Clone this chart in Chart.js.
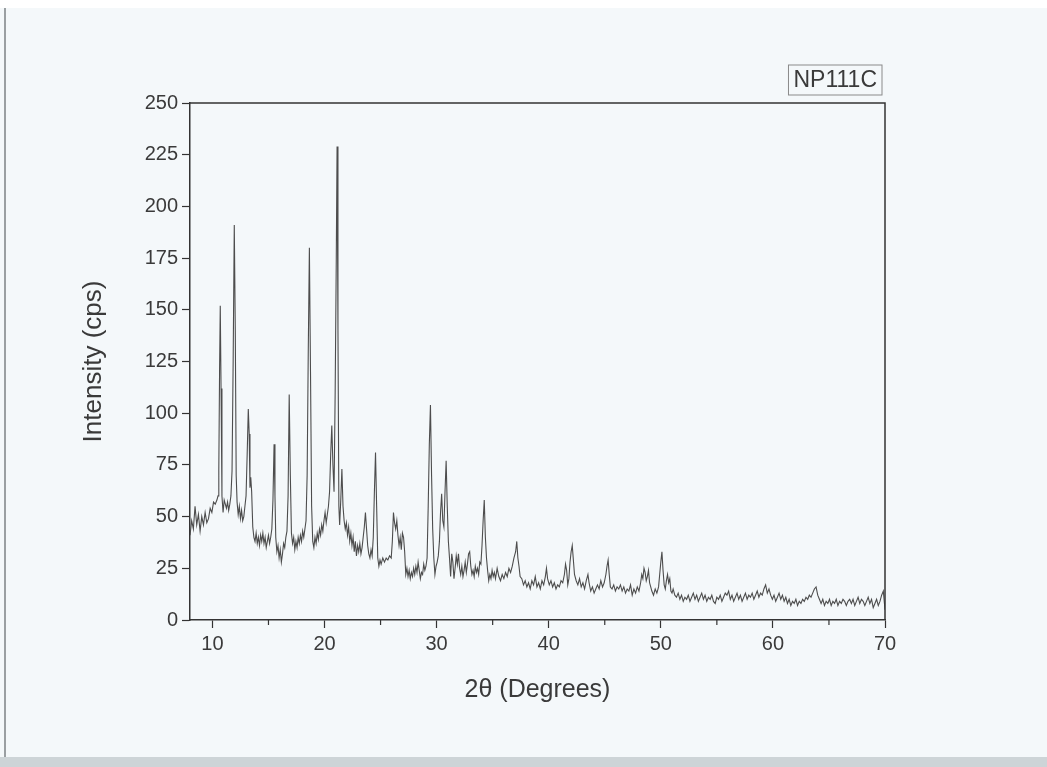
<!DOCTYPE html>
<html>
<head>
<meta charset="utf-8">
<title>NP111C</title>
<script src="https://cdn.jsdelivr.net/npm/chart.js@4"></script>
<style>
  html, body { margin: 0; padding: 0; }
  body { width: 1047px; height: 767px; background: #f4f8fa; position: relative; overflow: hidden; }
  #paperTop { position: absolute; left: 0; top: 0; width: 1047px; height: 8px; background: #ffffff; }
  #paperEdge { position: absolute; left: 4px; top: 8px; width: 2px; height: 750px; background: #9a9fa2; }
  #paperBottom { position: absolute; left: 0; top: 757px; width: 1047px; height: 10px; background: #cdd4d7; }
  #wrap { position: absolute; left: 0; top: 0; width: 1047px; height: 767px; }
</style>
</head>
<body>
<div id="paperTop"></div>
<div id="paperEdge"></div>
<div id="paperBottom"></div>
<div id="wrap"><canvas id="xrd"></canvas></div>
<script>
// Etiqueta de la muestra y titulos de ejes
const sampleName = 'NP111C';
const xTitle = '2\u03b8 (Degrees)';
const yTitle = 'Intensity (cps)';

// Rango de los ejes
const xRange = [8, 70];
const yRange = [0, 250];
const yStep = 25;
const xMajor = [10, 20, 30, 40, 50, 60, 70];
const xMinor = [15, 25, 35, 45, 55, 65];

// Difractograma: [2theta, intensidad]
const scan = [
  [8.0,41],[8.15,48],[8.3,44],[8.45,55],[8.6,46],[8.75,51],[8.9,43],[9.05,50],[9.2,46],[9.35,52],
  [9.5,47],[9.65,49],[9.8,54],[9.95,52],[10.1,57],[10.25,56],[10.4,58],[10.5,60],[10.57,72],[10.64,122],
  [10.7,152],[10.77,112],[10.85,60],[10.95,52],[11.05,58],[11.15,56],[11.25,54],[11.35,57],[11.45,53],[11.55,56],
  [11.65,60],[11.75,72],[11.85,125],[11.95,191],[12.04,140],[12.12,70],[12.2,57],[12.3,51],[12.4,55],[12.5,49],
  [12.6,53],[12.7,48],[12.8,50],[12.9,55],[13.0,60],[13.1,80],[13.2,102],[13.28,90],[13.35,64],[13.42,69],
  [13.5,62],[13.6,45],[13.7,40],[13.8,38],[13.9,42],[14.0,37],[14.1,40],[14.2,36],[14.3,41],[14.4,38],
  [14.5,42],[14.6,37],[14.7,40],[14.8,35],[14.9,38],[15.0,41],[15.1,37],[15.2,40],[15.3,44],[15.4,58],
  [15.5,85],[15.58,60],[15.65,40],[15.75,33],[15.85,36],[15.95,30],[16.05,34],[16.15,28],[16.25,32],[16.35,37],
  [16.45,35],[16.55,40],[16.65,43],[16.75,60],[16.85,109],[16.95,70],[17.05,42],[17.15,37],[17.25,40],[17.35,34],
  [17.45,38],[17.55,35],[17.65,40],[17.75,37],[17.85,41],[17.95,38],[18.05,43],[18.15,40],[18.25,44],[18.35,48],
  [18.45,70],[18.55,130],[18.65,180],[18.75,120],[18.85,55],[18.95,38],[19.05,35],[19.15,40],[19.25,37],[19.35,42],
  [19.45,39],[19.55,44],[19.65,41],[19.75,46],[19.85,43],[19.95,48],[20.05,52],[20.15,47],[20.25,51],[20.35,55],
  [20.45,62],[20.55,80],[20.65,94],[20.75,75],[20.85,62],[20.95,110],[21.05,175],[21.12,229],[21.2,140],[21.28,55],
  [21.35,46],[21.45,58],[21.55,73],[21.65,55],[21.75,48],[21.85,44],[21.95,47],[22.05,41],[22.15,45],[22.25,38],
  [22.35,42],[22.45,36],[22.55,40],[22.65,33],[22.75,38],[22.85,31],[22.95,36],[23.05,33],[23.15,37],[23.25,32],
  [23.35,35],[23.45,40],[23.55,45],[23.65,52],[23.75,44],[23.85,36],[23.95,32],[24.05,30],[24.15,34],[24.25,31],
  [24.35,40],[24.45,62],[24.55,81],[24.65,55],[24.75,30],[24.85,26],[24.95,29],[25.05,27],[25.2,30],[25.35,28],
  [25.5,30],[25.65,29],[25.8,31],[25.95,30],[26.05,38],[26.15,52],[26.25,47],[26.35,44],[26.45,48],[26.55,41],
  [26.65,36],[26.75,40],[26.85,34],[26.95,42],[27.05,40],[27.15,33],[27.25,22],[27.35,25],[27.45,21],[27.55,24],
  [27.65,20],[27.75,23],[27.85,21],[27.95,25],[28.05,22],[28.15,26],[28.25,23],[28.35,28],[28.45,24],[28.55,20],
  [28.65,23],[28.75,22],[28.85,27],[28.95,24],[29.05,26],[29.15,30],[29.25,55],[29.35,85],[29.45,104],[29.55,70],
  [29.65,44],[29.75,30],[29.85,22],[29.95,26],[30.05,28],[30.15,31],[30.25,38],[30.35,52],[30.45,61],[30.55,48],
  [30.65,45],[30.75,62],[30.85,77],[30.95,55],[31.05,38],[31.15,30],[31.25,21],[31.35,32],[31.45,28],[31.55,20],
  [31.65,25],[31.75,31],[31.85,27],[31.95,32],[32.05,25],[32.15,22],[32.25,26],[32.35,21],[32.45,24],[32.55,28],
  [32.65,23],[32.75,27],[32.85,32],[32.95,33],[33.05,26],[33.15,22],[33.25,24],[33.35,21],[33.45,26],[33.55,23],
  [33.65,25],[33.75,22],[33.85,28],[33.95,27],[34.05,36],[34.15,48],[34.25,58],[34.35,40],[34.45,30],[34.55,24],
  [34.65,19],[34.75,22],[34.85,20],[34.95,24],[35.05,21],[35.15,23],[35.25,20],[35.4,25],[35.55,21],[35.7,19],
  [35.85,22],[36.0,20],[36.15,23],[36.3,21],[36.45,25],[36.6,23],[36.75,26],[36.9,30],[37.05,33],[37.15,38],
  [37.25,30],[37.35,26],[37.45,21],[37.6,20],[37.75,17],[37.9,19],[38.05,16],[38.2,18],[38.35,15],[38.5,19],
  [38.65,17],[38.8,21],[38.95,16],[39.1,18],[39.25,15],[39.4,19],[39.55,17],[39.7,21],[39.8,25],[39.9,20],
  [40.05,17],[40.2,19],[40.35,16],[40.5,18],[40.65,15],[40.8,17],[40.95,16],[41.1,19],[41.25,18],[41.4,22],
  [41.5,27],[41.6,24],[41.7,17],[41.8,20],[41.9,28],[42.0,33],[42.1,36],[42.2,29],[42.3,22],[42.45,19],
  [42.6,17],[42.75,20],[42.9,16],[43.05,18],[43.2,15],[43.35,19],[43.5,22],[43.6,18],[43.75,14],[43.9,16],
  [44.05,13],[44.2,15],[44.35,17],[44.5,15],[44.65,19],[44.8,16],[44.95,18],[45.1,22],[45.2,26],[45.3,29],
  [45.4,22],[45.5,16],[45.65,15],[45.8,17],[45.95,14],[46.1,16],[46.25,15],[46.4,17],[46.55,14],[46.7,16],
  [46.85,13],[47.0,15],[47.15,14],[47.3,17],[47.45,12],[47.6,15],[47.75,13],[47.9,16],[48.05,14],[48.2,18],
  [48.3,22],[48.4,20],[48.5,25],[48.6,23],[48.7,19],[48.8,21],[48.9,24],[49.0,18],[49.1,16],[49.2,14],
  [49.35,12],[49.5,15],[49.65,13],[49.8,16],[49.9,22],[50.0,28],[50.1,33],[50.2,24],[50.3,17],[50.4,15],
  [50.5,19],[50.6,22],[50.7,18],[50.8,20],[50.9,14],[51.0,13],[51.1,15],[51.25,12],[51.4,11],[51.55,13],
  [51.7,10],[51.85,12],[52.0,9],[52.15,11],[52.3,10],[52.45,12],[52.6,9],[52.75,11],[52.9,13],[53.05,10],
  [53.2,12],[53.35,9],[53.5,11],[53.65,13],[53.8,10],[53.95,12],[54.1,9],[54.25,11],[54.4,10],[54.55,12],
  [54.7,9],[54.85,8],[55.0,11],[55.15,10],[55.3,12],[55.45,9],[55.6,11],[55.75,13],[55.9,12],[56.05,14],
  [56.2,10],[56.35,12],[56.5,9],[56.65,11],[56.8,13],[56.95,10],[57.1,12],[57.25,9],[57.4,11],[57.55,13],
  [57.7,10],[57.85,12],[58.0,11],[58.15,13],[58.3,10],[58.45,12],[58.6,14],[58.75,11],[58.9,13],[59.05,12],
  [59.2,15],[59.35,17],[59.5,13],[59.65,15],[59.8,12],[59.95,10],[60.1,12],[60.25,9],[60.4,11],[60.55,13],
  [60.7,10],[60.85,12],[61.0,9],[61.15,11],[61.3,8],[61.45,10],[61.6,7],[61.75,9],[61.9,8],[62.05,10],
  [62.2,7],[62.35,9],[62.5,8],[62.65,10],[62.8,9],[62.95,11],[63.1,10],[63.25,12],[63.4,11],[63.55,13],
  [63.7,15],[63.85,16],[64.0,12],[64.15,10],[64.3,8],[64.45,10],[64.6,7],[64.75,9],[64.9,8],[65.05,10],
  [65.2,7],[65.35,9],[65.5,8],[65.65,10],[65.8,7],[65.95,9],[66.1,8],[66.25,10],[66.4,9],[66.55,7],
  [66.7,9],[66.85,10],[67.0,8],[67.15,10],[67.3,7],[67.45,9],[67.6,11],[67.75,8],[67.9,10],[68.05,9],
  [68.2,7],[68.35,9],[68.5,11],[68.65,8],[68.8,10],[68.95,6],[69.1,8],[69.25,10],[69.4,7],[69.55,9],
  [69.7,12],[69.85,14],[69.95,8],[70.0,5]
];

const axisColor = '#333333';
const textColor = '#3a3a3a';
const fontFamily = '"Liberation Sans", Arial, sans-serif';

// Marco superior/derecho, ticks menores y etiqueta de la muestra
const framePlugin = {
  id: 'frame',
  afterDraw(chart) {
    const { ctx, chartArea: a, scales } = chart;
    ctx.save();
    ctx.strokeStyle = axisColor;
    ctx.lineWidth = 1.5;
    ctx.beginPath();
    ctx.moveTo(a.left, a.top);
    ctx.lineTo(a.right, a.top);
    ctx.lineTo(a.right, a.bottom);
    ctx.stroke();

    // ticks menores del eje x
    ctx.lineWidth = 1.2;
    xMinor.forEach(v => {
      const px = scales.x.getPixelForValue(v);
      ctx.beginPath();
      ctx.moveTo(px, a.bottom);
      ctx.lineTo(px, a.bottom + 5);
      ctx.stroke();
    });

    // cuadro con el nombre de la muestra
    ctx.font = '23px ' + fontFamily;
    const w = ctx.measureText(sampleName).width + 10;
    const bx = a.right - 3 - w, by = 65, bh = 30;
    ctx.strokeStyle = '#8a8a8a';
    ctx.lineWidth = 1;
    ctx.strokeRect(bx, by, w, bh);
    ctx.fillStyle = textColor;
    ctx.textAlign = 'center';
    ctx.textBaseline = 'middle';
    ctx.fillText(sampleName, bx + w / 2, by + bh / 2 + 1);
    ctx.restore();
  }
};

const ctx = document.getElementById('xrd').getContext('2d');
new Chart(ctx, {
  type: 'line',
  data: {
    datasets: [{
      label: sampleName,
      data: scan.map(p => ({ x: p[0], y: p[1] })),
      borderColor: '#4d4d4d',
      borderWidth: 1.1,
      pointRadius: 0,
      tension: 0,
      fill: false
    }]
  },
  options: {
    responsive: true,
    maintainAspectRatio: false,
    animation: false,
    layout: { padding: { left: 74, right: 162, top: 103, bottom: 58 } },
    plugins: {
      legend: { display: false },
      tooltip: { enabled: false }
    },
    scales: {
      x: {
        type: 'linear',
        min: xRange[0],
        max: xRange[1],
        afterBuildTicks: s => { s.ticks = xMajor.map(v => ({ value: v })); },
        afterFit: s => { s.height = 89; },
        border: { color: axisColor, width: 1.5 },
        grid: { drawOnChartArea: false, tickLength: 8, tickColor: axisColor, tickWidth: 1.2 },
        ticks: { color: textColor, font: { size: 20, family: fontFamily }, padding: 4, maxRotation: 0 },
        title: { display: true, text: xTitle, color: textColor, font: { size: 25, family: fontFamily }, padding: { top: 10, bottom: 4 } }
      },
      y: {
        min: yRange[0],
        max: yRange[1],
        afterFit: s => { s.width = 116; },
        border: { color: axisColor, width: 1.5 },
        grid: { drawOnChartArea: false, tickLength: 8, tickColor: axisColor, tickWidth: 1.2 },
        ticks: { stepSize: yStep, color: textColor, font: { size: 20, family: fontFamily }, padding: 4 },
        title: { display: true, text: yTitle, color: textColor, font: { size: 26, family: fontFamily }, padding: { top: 4, bottom: 0 } }
      }
    }
  },
  plugins: [framePlugin]
});
</script>
</body>
</html>
